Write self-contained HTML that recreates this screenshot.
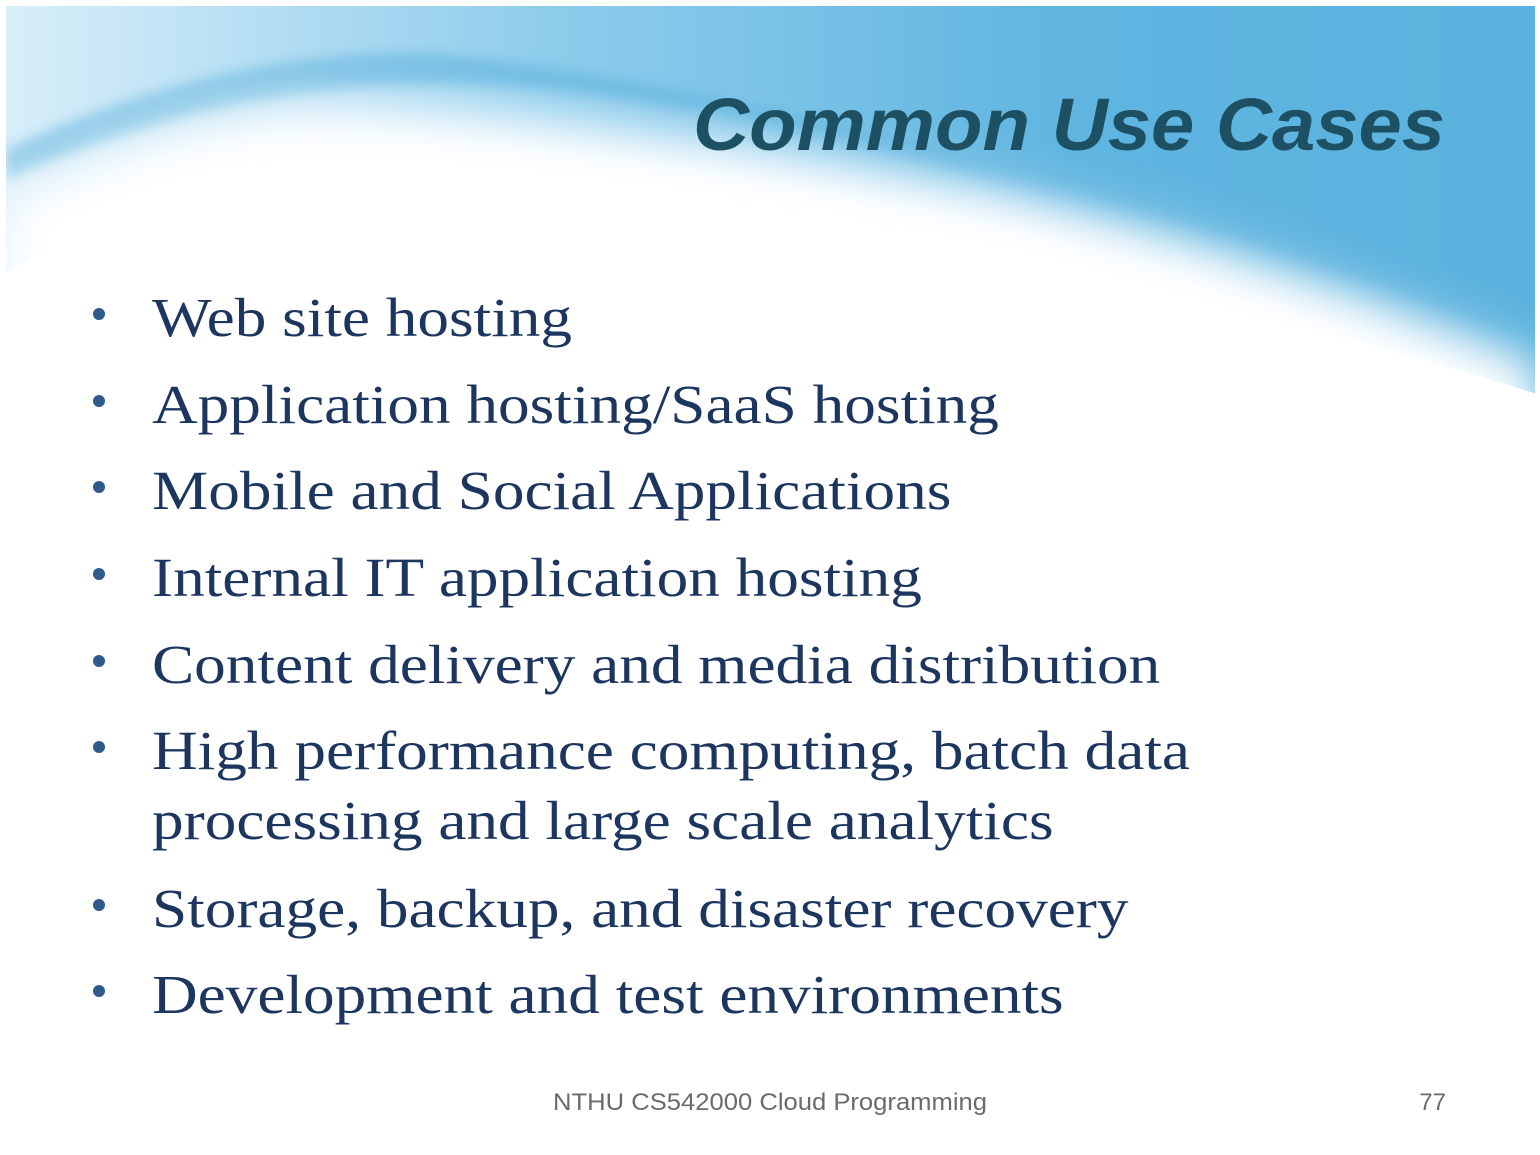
<!DOCTYPE html>
<html><head><meta charset="utf-8"><style>
html,body{margin:0;padding:0;background:#fff;}
#s{position:relative;width:1540px;height:1155px;overflow:hidden;background:#fff;}
svg{position:absolute;left:0;top:0;}
.t{position:absolute;font-family:"Liberation Serif",serif;font-size:55px;color:#1c3660;left:152px;white-space:nowrap;line-height:1;transform:scaleX(1.15);transform-origin:0 0;}
.b{position:absolute;left:93px;width:12px;height:12px;border-radius:50%;background:#2e5a8e;}
</style></head><body><div id="s">
<svg width="1540" height="1155" viewBox="0 0 1540 1155">
<defs>
<linearGradient id="bg" x1="0" y1="0" x2="1" y2="0">
<stop offset="0" stop-color="#d8eef9"/><stop offset="0.35" stop-color="#8fcdec"/><stop offset="0.7" stop-color="#5fb5e0"/><stop offset="1" stop-color="#5ab2de"/>
</linearGradient>
<filter id="bl" x="-0.2" y="-0.2" width="1.4" height="1.4"><feGaussianBlur stdDeviation="24"/></filter>
<filter id="bl2"><feGaussianBlur stdDeviation="6"/></filter>
</defs>
<rect x="6" y="6" width="1529" height="400" fill="url(#bg)"/>
<path d="M6 150 C150 80 330 40 470 58 C700 85 900 140 1100 185 C1300 240 1450 300 1535 335 L1535 340 C1400 300 1250 250 1100 210 C900 160 700 95 470 85 C300 80 150 120 6 180 Z" fill="#4aa7d8" opacity="0.45" filter="url(#bl2)"/>
<path d="M6 200 C120 140 230 105 330 105 C520 108 800 150 1000 190 C1200 235 1400 305 1540 365 L1540 1155 L0 1155 L0 200 Z" fill="#fff" filter="url(#bl)"/>
<path d="M0 275 C150 200 250 165 330 165 C520 165 800 210 1000 250 C1200 300 1400 350 1540 395 L1540 1155 L0 1155 Z" fill="#fff"/>
<rect x="0" y="0" width="1540" height="6" fill="#fff"/>
<rect x="1535" y="0" width="5" height="1155" fill="#fff"/>
<rect x="0" y="0" width="6" height="400" fill="#fff"/>
<text x="1445" y="150" text-anchor="end" font-family="Liberation Sans, sans-serif" font-weight="bold" font-style="italic" font-size="74" fill="#1e5064" textLength="752" lengthAdjust="spacingAndGlyphs">Common Use Cases</text>
<text x="770" y="1110" text-anchor="middle" font-family="Liberation Sans, sans-serif" font-size="24" fill="#6b6b6b" textLength="434" lengthAdjust="spacingAndGlyphs">NTHU CS542000 Cloud Programming</text>
<text x="1446" y="1110" text-anchor="end" font-family="Liberation Sans, sans-serif" font-size="24" fill="#6b6b6b">77</text>
</svg>
<div class="b" style="top:308px"></div><div class="t" style="top:290px">Web site hosting</div>
<div class="b" style="top:395px"></div><div class="t" style="top:377px">Application hosting/SaaS hosting</div>
<div class="b" style="top:481px"></div><div class="t" style="top:463px">Mobile and Social Applications</div>
<div class="b" style="top:568px"></div><div class="t" style="top:550px">Internal IT application hosting</div>
<div class="b" style="top:655px"></div><div class="t" style="top:637px">Content delivery and media distribution</div>
<div class="b" style="top:741px"></div><div class="t" style="top:723px">High performance computing, batch data</div>
<div class="t" style="top:793px">processing and large scale analytics</div>
<div class="b" style="top:899px"></div><div class="t" style="top:881px">Storage, backup, and disaster recovery</div>
<div class="b" style="top:985px"></div><div class="t" style="top:967px">Development and test environments</div>
</div></body></html>
